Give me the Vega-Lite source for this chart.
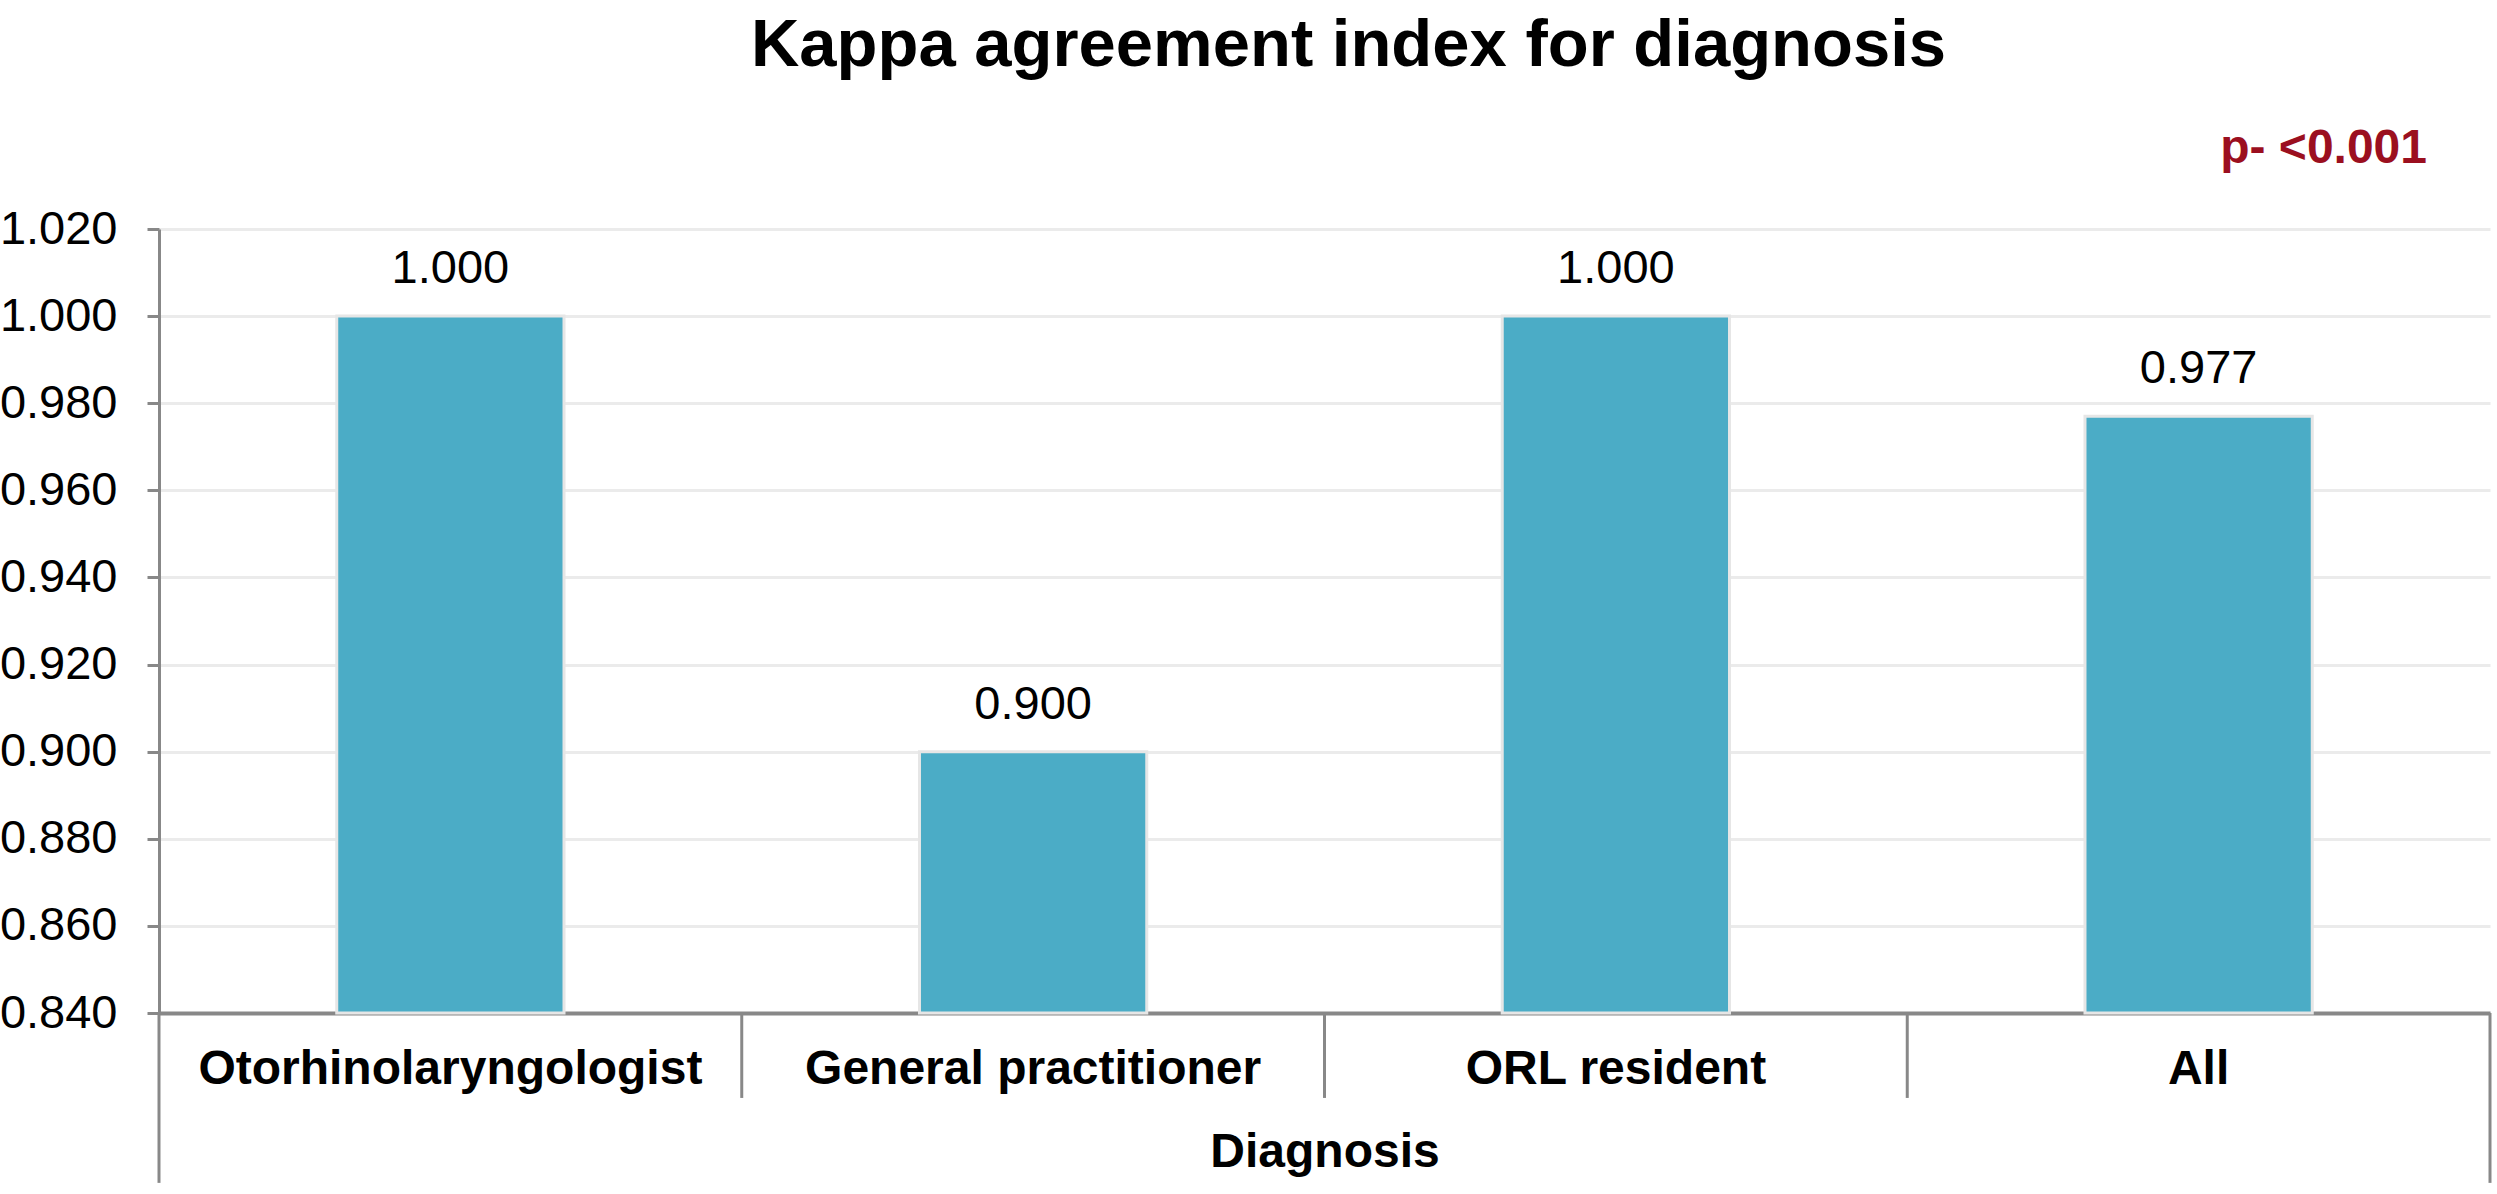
{
  "$schema": "https://vega.github.io/schema/vega-lite/v6.json",
  "width": 2331,
  "height": 784,
  "autosize": "none",
  "padding": {"left": 159, "top": 229, "right": 7, "bottom": 181},
  "background": "white",
  "config": {"font": "Liberation Sans", "view": {"stroke": null}},
  "title": {
    "text": "Kappa agreement index for diagnosis",
    "fontSize": 67,
    "fontWeight": "bold",
    "color": "black",
    "anchor": "middle",
    "frame": "group",
    "dx": 24,
    "offset": 45
  },
  "data": {
    "values": [
      {"category": "Otorhinolaryngologist", "kappa": 1.0},
      {"category": "General practitioner", "kappa": 0.9},
      {"category": "ORL resident", "kappa": 1.0},
      {"category": "All", "kappa": 0.977}
    ]
  },
  "layer": [
    {
      "mark": {"type": "bar", "color": "#4BACC6", "stroke": "#e6e6e6", "strokeWidth": 3, "width": {"band": 0.39}},
      "encoding": {
        "x": {
          "field": "category",
          "type": "nominal",
          "scale": {"domain": ["Otorhinolaryngologist", "General practitioner", "ORL resident", "All"], "paddingInner": 0, "paddingOuter": 0},
          "axis": {
            "title": "Diagnosis",
            "labelAngle": 0,
            "ticks": false,
            "tickSize": 0,
            "labelFontSize": 48,
            "labelFontWeight": "bold",
            "labelColor": "black",
            "labelPadding": 32,
            "labelLimit": 1000,
            "labelOverlap": false,
            "domainColor": "#888888",
            "domainWidth": 4,
            "titleFontSize": 48,
            "titleFontWeight": "bold",
            "titleColor": "black",
            "titlePadding": 35,
            "grid": false
          }
        },
        "y": {
          "field": "kappa",
          "type": "quantitative",
          "scale": {"domain": [0.84, 1.02], "nice": false, "zero": false},
          "axis": {
            "title": null,
            "values": [0.84, 0.86, 0.88, 0.9, 0.92, 0.94, 0.96, 0.98, 1.0, 1.02],
            "format": ".3f",
            "labelFontSize": 47,
            "labelColor": "black",
            "labelPadding": 30,
            "tickSize": 12,
            "tickColor": "#888888",
            "tickWidth": 3,
            "domainColor": "#888888",
            "domainWidth": 3,
            "gridColor": "#ebebeb",
            "gridWidth": 3
          }
        },
        "y2": {"datum": 0.84}
      }
    },
    {
      "mark": {"type": "text", "fontSize": 47, "color": "black", "baseline": "alphabetic", "dy": -33},
      "encoding": {
        "x": {"field": "category", "type": "nominal"},
        "y": {"field": "kappa", "type": "quantitative"},
        "text": {"field": "kappa", "type": "quantitative", "format": ".3f"}
      }
    },
    {
      "transform": [{"filter": "datum.category !== 'Otorhinolaryngologist'"}],
      "mark": {"type": "rule", "color": "#888888", "strokeWidth": 3},
      "encoding": {
        "x": {"field": "category", "type": "nominal", "bandPosition": 0},
        "y": {"datum": 0.84},
        "y2": {"datum": 0.8205}
      }
    },
    {
      "transform": [{"filter": "datum.category === 'Otorhinolaryngologist'"}],
      "mark": {"type": "rule", "color": "#888888", "strokeWidth": 3},
      "encoding": {
        "x": {"field": "category", "type": "nominal", "bandPosition": 0},
        "y": {"datum": 0.84},
        "y2": {"datum": 0.801}
      }
    },
    {
      "transform": [{"filter": "datum.category === 'All'"}],
      "mark": {"type": "rule", "color": "#888888", "strokeWidth": 3},
      "encoding": {
        "x": {"field": "category", "type": "nominal", "bandPosition": 1},
        "y": {"datum": 0.84},
        "y2": {"datum": 0.801}
      }
    },
    {
      "transform": [{"filter": "datum.category === 'All'"}],
      "mark": {"type": "text", "text": "p- <0.001", "fontSize": 48, "fontWeight": "bold", "color": "#9B0F1F", "align": "right", "baseline": "alphabetic", "dx": -63},
      "encoding": {
        "x": {"field": "category", "type": "nominal", "bandPosition": 1},
        "y": {"datum": 1.0352}
      }
    }
  ]
}
